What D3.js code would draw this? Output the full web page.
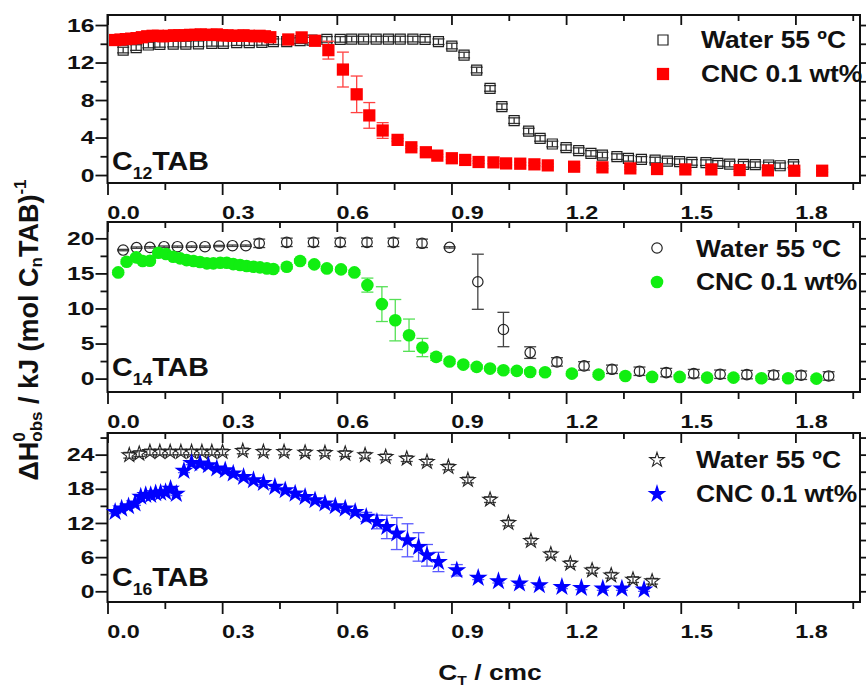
<!DOCTYPE html>
<html>
<head>
<meta charset="utf-8">
<script src="https://cdn.jsdelivr.net/npm/d3@7"></script>
<style>
body{margin:0;background:#fff;}
svg text{font-family:"Liberation Sans",Arial,sans-serif;font-weight:bold;fill:#111;}
</style>
</head>
<body>
<svg id="chart" width="866" height="690"></svg>
<script>
// ---- C12TAB panel ----
var water12X = [0.041,0.075,0.107,0.137,0.172,0.205,0.238,0.273,0.303,0.338,0.371,0.404,0.434,0.469,0.504,0.535,0.574,0.609,0.639,0.670,0.703,0.735,0.766,0.799,0.831,0.866,0.901,0.933,0.966,1.001,1.032,1.064,1.102,1.132,1.164,1.200,1.233,1.265,1.295,1.333,1.363,1.397,1.433,1.465,1.497,1.529,1.566,1.597,1.628,1.664,1.695,1.730,1.760,1.795];
var water12Y = [13.33,13.6,13.87,13.94,13.97,13.97,14.0,14.05,14.05,14.12,14.12,14.15,14.22,14.22,14.33,14.4,14.47,14.47,14.5,14.5,14.5,14.5,14.5,14.5,14.47,14.22,13.76,12.8,11.2,9.24,7.29,5.80,4.69,3.91,3.31,2.92,2.60,2.31,2.13,1.96,1.78,1.67,1.6,1.49,1.42,1.35,1.32,1.24,1.17,1.14,1.10,1.07,0.99,1.1];
var water12E = [0.3,0.3,0.3,0.3,0.3,0.3,0.3,0.3,0.3,0.3,0.3,0.3,0.3,0.3,0.3,0.3,0.3,0.3,0.3,0.3,0.3,0.3,0.3,0.3,0.3,0.3,0.3,0.3,0.3,0.3,0.3,0.3,0.3,0.3,0.3,0.3,0.3,0.3,0.3,0.3,0.3,0.3,0.3,0.3,0.3,0.3,0.3,0.3,0.3,0.3,0.3,0.3,0.3,0.3];
var cnc12X = [0.020,0.034,0.048,0.062,0.076,0.090,0.104,0.118,0.132,0.146,0.160,0.174,0.188,0.202,0.216,0.230,0.244,0.258,0.272,0.286,0.300,0.314,0.328,0.342,0.356,0.370,0.384,0.398,0.412,0.426,0.473,0.508,0.543,0.578,0.616,0.652,0.685,0.720,0.759,0.795,0.833,0.863,0.901,0.936,0.971,1.010,1.043,1.080,1.117,1.152,1.221,1.295,1.368,1.438,1.512,1.580,1.654,1.728,1.797,1.870];
var cnc12Y = [14.4,14.45,14.5,14.55,14.6,14.7,14.8,14.85,14.85,14.8,14.85,14.9,14.9,14.9,14.95,14.95,15.0,14.95,14.95,15.0,14.9,14.9,14.85,14.85,14.9,14.85,14.8,14.85,14.8,14.7,14.46,14.68,14.32,13.32,11.25,8.61,6.36,4.75,3.75,2.96,2.43,2.07,1.79,1.61,1.39,1.35,1.24,1.21,1.14,1.03,0.89,0.82,0.71,0.64,0.60,0.60,0.53,0.50,0.46,0.46];
var cnc12E = [0.15,0.15,0.15,0.15,0.15,0.15,0.15,0.15,0.15,0.15,0.15,0.15,0.15,0.15,0.15,0.15,0.15,0.15,0.15,0.15,0.15,0.15,0.15,0.15,0.15,0.15,0.15,0.15,0.15,0.15,0.15,0.15,0.15,0.95,1.86,1.95,1.37,0.84,0.15,0.15,0.15,0.15,0.15,0.15,0.15,0.15,0.15,0.15,0.15,0.15,0.15,0.15,0.15,0.15,0.15,0.15,0.15,0.15,0.15,0.15];

// ---- C14TAB panel ----
var water14X = [0.041,0.076,0.111,0.148,0.183,0.220,0.255,0.292,0.327,0.362,0.397,0.469,0.539,0.609,0.679,0.748,0.823,0.895,0.969,1.036,1.106,1.176,1.247,1.320,1.392,1.462,1.534,1.603,1.673,1.743,1.815,1.887];
var water14Y = [18.33,18.67,18.71,18.81,18.81,18.81,18.81,18.9,18.95,18.95,19.29,19.43,19.43,19.43,19.43,19.43,19.29,18.71,13.81,7.0,3.71,2.38,1.81,1.33,1.05,0.86,0.71,0.62,0.57,0.52,0.48,0.38];
var water14E = [0.1,0.1,0.1,0.1,0.1,0.1,0.1,0.1,0.1,0.1,0.6,0.6,0.6,0.6,0.6,0.6,0.6,0.1,3.93,2.45,0.83,0.6,0.6,0.6,0.6,0.6,0.6,0.6,0.6,0.6,0.6,0.6];
var cnc14X = [0.028,0.050,0.075,0.092,0.111,0.133,0.153,0.172,0.190,0.207,0.225,0.242,0.260,0.277,0.295,0.312,0.329,0.347,0.364,0.382,0.399,0.417,0.434,0.469,0.504,0.541,0.574,0.611,0.646,0.680,0.718,0.753,0.789,0.824,0.860,0.895,0.931,0.966,1.001,1.036,1.071,1.106,1.145,1.215,1.285,1.355,1.425,1.497,1.569,1.638,1.711,1.781,1.855];
var cnc14Y = [15.14,16.67,17.29,16.76,16.81,17.95,17.76,17.38,17.14,16.9,16.76,16.62,16.43,16.43,16.52,16.52,16.33,16.19,16.05,15.95,15.86,15.71,15.62,15.95,16.76,16.29,15.71,15.57,15.14,13.33,10.62,8.33,6.19,4.43,3.1,2.43,2.0,1.67,1.43,1.19,1.10,0.95,0.9,0.71,0.57,0.38,0.24,0.24,0.14,0.14,0.05,0.05,0.0];
var cnc14E = [0.3,0.3,0.3,0.3,0.3,0.3,0.3,0.3,0.3,0.3,0.3,0.3,0.3,0.3,0.3,0.3,0.3,0.3,0.3,0.3,0.3,0.3,0.3,0.3,0.3,0.3,0.3,0.3,0.3,1.0,2.48,2.95,2.3,1.3,0.5,0.3,0.3,0.3,0.3,0.3,0.3,0.3,0.3,0.3,0.3,0.3,0.3,0.3,0.3,0.3,0.3,0.3,0.3];

// ---- C16TAB panel ----
var water16X = [0.057,0.083,0.111,0.137,0.164,0.192,0.220,0.247,0.273,0.301,0.354,0.408,0.462,0.517,0.569,0.622,0.674,0.728,0.783,0.836,0.892,0.943,1.001,1.049,1.108,1.160,1.211,1.268,1.318,1.375,1.425];
var water16Y = [23.89,24.18,24.47,24.47,24.47,24.47,24.47,24.47,24.47,24.47,24.65,24.47,24.47,24.36,24.3,24.18,23.89,23.6,23.3,22.72,21.84,19.55,16.1,12.0,8.84,6.5,4.86,3.69,2.81,2.05,1.76];
var water16E = [0.5,0.5,0.5,0.5,0.5,0.5,0.5,0.5,0.5,0.5,0.5,0.5,0.5,0.5,0.5,0.5,0.5,0.5,0.5,0.5,0.5,0.5,0.5,0.5,0.5,0.5,0.5,0.5,0.5,0.5,0.5];
var cnc16X = [0.020,0.037,0.055,0.072,0.087,0.100,0.113,0.126,0.139,0.152,0.165,0.180,0.200,0.220,0.242,0.264,0.286,0.308,0.329,0.356,0.382,0.408,0.438,0.465,0.491,0.517,0.543,0.569,0.596,0.622,0.648,0.677,0.705,0.731,0.757,0.785,0.814,0.836,0.866,0.914,0.970,1.023,1.078,1.130,1.189,1.240,1.296,1.346,1.404];
var cnc16Y = [13.93,14.52,14.93,15.4,16.6,16.9,16.9,17.2,17.3,17.4,18.0,17.1,21.14,22.54,22.42,22.13,21.55,21.25,20.67,20.08,19.5,19.03,18.33,17.74,17.15,16.57,15.98,15.4,14.93,14.52,13.93,13.06,12.18,11.3,10.13,8.96,7.79,6.32,5.15,3.69,2.35,1.76,1.35,1.05,0.76,0.59,0.47,0.47,0.29];
var cnc16E = [0.3,0.3,0.3,0.3,0.3,0.3,0.3,0.3,0.3,0.3,0.3,0.3,0.3,0.3,0.3,0.3,0.3,0.3,0.3,0.3,0.3,0.3,0.3,0.3,0.3,0.3,0.3,0.3,0.3,0.3,0.3,0.8,1.2,2.05,2.8,2.9,2.5,1.9,1.7,1.0,0.3,0.3,0.3,0.3,0.3,0.3,0.3,0.3,0.3];

var xMajor = [0,0.3,0.6,0.9,1.2,1.5,1.8];
var xMinor = [0.15,0.45,0.75,1.05,1.35,1.65,1.95];
var legendNames = ["Water 55 \u00BAC","CNC 0.1 wt%"];

var svg = d3.select("#chart");
var L = 107.5, R = 860;
var x = d3.scaleLinear().domain([0,1.969]).range([L,R]);

var ink = "#111";
var tickSX = 1.3;

function styleAxis(g){
  g.select(".domain").remove();
  g.selectAll("line").attr("stroke",ink).attr("stroke-width",1.8);
}

function drawPanel(p){
  var y = d3.scaleLinear().domain(p.yDom).range([p.bottom,p.top]);
  var g = svg.append("g");

  // left axis
  g.append("g").attr("transform","translate("+L+",0)")
    .call(d3.axisLeft(y).tickValues(p.yMinor).tickSize(7).tickFormat(""))
    .call(styleAxis);
  var la = g.append("g").attr("transform","translate("+L+",0)")
    .call(d3.axisLeft(y).tickValues(p.yMajor).tickSize(12).tickPadding(2))
    .call(styleAxis);
  la.selectAll("text").attr("font-size",19).attr("fill",ink)
    .attr("x",-13/tickSX).attr("transform","scale("+tickSX+",1)");

  // right axis, no labels
  g.append("g").attr("transform","translate("+R+",0)")
    .call(d3.axisRight(y).tickValues(p.yMinor).tickSize(7).tickFormat(""))
    .call(styleAxis);
  g.append("g").attr("transform","translate("+R+",0)")
    .call(d3.axisRight(y).tickValues(p.yMajor).tickSize(12).tickFormat(""))
    .call(styleAxis);

  // top axis, ticks inside
  g.append("g").attr("transform","translate(0,"+p.top+")")
    .call(d3.axisTop(x).tickValues(xMinor).tickSize(-6).tickFormat(""))
    .call(styleAxis);
  g.append("g").attr("transform","translate(0,"+p.top+")")
    .call(d3.axisTop(x).tickValues(xMajor).tickSize(-10).tickFormat(""))
    .call(styleAxis);

  // bottom axis, ticks outside
  g.append("g").attr("transform","translate(0,"+p.bottom+")")
    .call(d3.axisBottom(x).tickValues(xMinor).tickSize(7).tickFormat(""))
    .call(styleAxis);
  var ba = g.append("g").attr("transform","translate(0,"+p.bottom+")")
    .call(d3.axisBottom(x).tickValues(xMajor).tickSize(12).tickFormat(d3.format(".1f")))
    .call(styleAxis);
  ba.selectAll("text").attr("font-size",18).attr("fill",ink)
    .attr("y",23).attr("x",15.5/tickSX).attr("transform","scale("+tickSX+",1)");

  // frame
  g.append("rect").attr("x",L).attr("y",p.top).attr("width",R-L).attr("height",p.bottom-p.top)
    .attr("fill","none").attr("stroke",ink).attr("stroke-width",2);

  // series
  p.series.forEach(function(s){
    var pts = s.x.map(function(v,i){ return {x:v,y:s.y[i],e:s.e[i]}; });
    var eg = g.append("g").attr("stroke",s.errColor).attr("stroke-width",1.3);
    pts.forEach(function(d){
      var cx = x(d.x), y1 = y(d.y-d.e), y2 = y(d.y+d.e);
      eg.append("line").attr("x1",cx).attr("x2",cx).attr("y1",y1).attr("y2",y2);
      eg.append("line").attr("x1",cx-6).attr("x2",cx+6).attr("y1",y1).attr("y2",y1);
      eg.append("line").attr("x1",cx-6).attr("x2",cx+6).attr("y1",y2).attr("y2",y2);
    });
    g.append("g").selectAll("path").data(pts).join("path")
      .attr("transform",function(d){ return "translate("+x(d.x)+","+y(d.y)+")"; })
      .attr("d",d3.symbol(s.symbol,s.size)())
      .attr("fill",s.fill).attr("stroke",s.stroke).attr("stroke-width",s.sw);
  });

  // legend
  p.series.forEach(function(s,i){
    g.append("path")
      .attr("transform","translate("+p.legX+","+p.legSym[i]+")")
      .attr("d",d3.symbol(s.symbol,s.size)())
      .attr("fill",s.fill).attr("stroke",s.stroke).attr("stroke-width",s.sw);
    g.append("text").attr("transform","translate("+p.legTX+","+p.legBase[i]+") scale(1.1,1)")
      .attr("font-size",24).attr("fill",ink).text(legendNames[i]);
  });

  // panel label C_nTAB
  var t = g.append("text").attr("transform","translate(112,"+p.labBase+") scale(1.1,1)")
    .attr("font-size",26).attr("fill",ink);
  t.append("tspan").text("C");
  t.append("tspan").attr("font-size",16).attr("dy",9).text(p.n);
  t.append("tspan").attr("dy",-9).text("TAB");
}

drawPanel({
  top:15, bottom:183, yDom:[-0.85,17.07], yMajor:[0,4,8,12,16], yMinor:[2,6,10,14],
  n:"12", labBase:170, legX:663, legTX:701, legSym:[40,74], legBase:[48,82],
  series:[
    {x:water12X,y:water12Y,e:water12E,symbol:d3.symbolSquare,size:100,fill:"none",stroke:"#222",sw:1.2,errColor:"#333"},
    {x:cnc12X,y:cnc12Y,e:cnc12E,symbol:d3.symbolSquare,size:150,fill:"#ff0000",stroke:"none",sw:0,errColor:"#ff4040"}
  ]
});
drawPanel({
  top:222, bottom:392, yDom:[-1.91,22.33], yMajor:[0,5,10,15,20], yMinor:[2.5,7.5,12.5,17.5],
  n:"14", labBase:376, legX:657, legTX:696, legSym:[248,282], legBase:[257,290],
  series:[
    {x:water14X,y:water14Y,e:water14E,symbol:d3.symbolCircle,size:85,fill:"none",stroke:"#222",sw:1.2,errColor:"#444"},
    {x:cnc14X,y:cnc14Y,e:cnc14E,symbol:d3.symbolCircle,size:125,fill:"#11ee11",stroke:"none",sw:0,errColor:"#55e055"}
  ]
});
drawPanel({
  top:433, bottom:602, yDom:[-1.88,27.8], yMajor:[0,6,12,18,24], yMinor:[3,9,15,21,27],
  n:"16", labBase:586, legX:657, legTX:696, legSym:[460,494], legBase:[468,502],
  series:[
    {x:water16X,y:water16Y,e:water16E,symbol:d3.symbolStar,size:65,fill:"none",stroke:"#222",sw:1.1,errColor:"#444"},
    {x:cnc16X,y:cnc16Y,e:cnc16E,symbol:d3.symbolStar,size:110,fill:"#0000ff",stroke:"none",sw:0,errColor:"#5a5aff"}
  ]
});

// x axis title
var xt = svg.append("text").attr("transform","translate(490,680) scale(1.2,1)")
  .attr("text-anchor","middle").attr("font-size",22).attr("fill",ink);
xt.append("tspan").text("C");
xt.append("tspan").attr("font-size",13).attr("dy",5).text("T");
xt.append("tspan").attr("dy",-5).text(" / cmc");

// y axis title
var yt = svg.append("text").attr("transform","translate(38,330) rotate(-90)")
  .attr("text-anchor","middle").attr("font-size",27).attr("fill",ink);
yt.append("tspan").text("\u0394H");
yt.append("tspan").attr("font-size",17).attr("dy",-13).text("0");
yt.append("tspan").attr("font-size",17).attr("dx",-9.5).attr("dy",17).text("obs");
yt.append("tspan").attr("dy",-4).text(" / kJ (mol C");
yt.append("tspan").attr("font-size",17).attr("dy",4).text("n");
yt.append("tspan").attr("dy",-4).text("TAB)");
yt.append("tspan").attr("font-size",17).attr("dy",-12).text("-1");
</script>
</body>
</html>
